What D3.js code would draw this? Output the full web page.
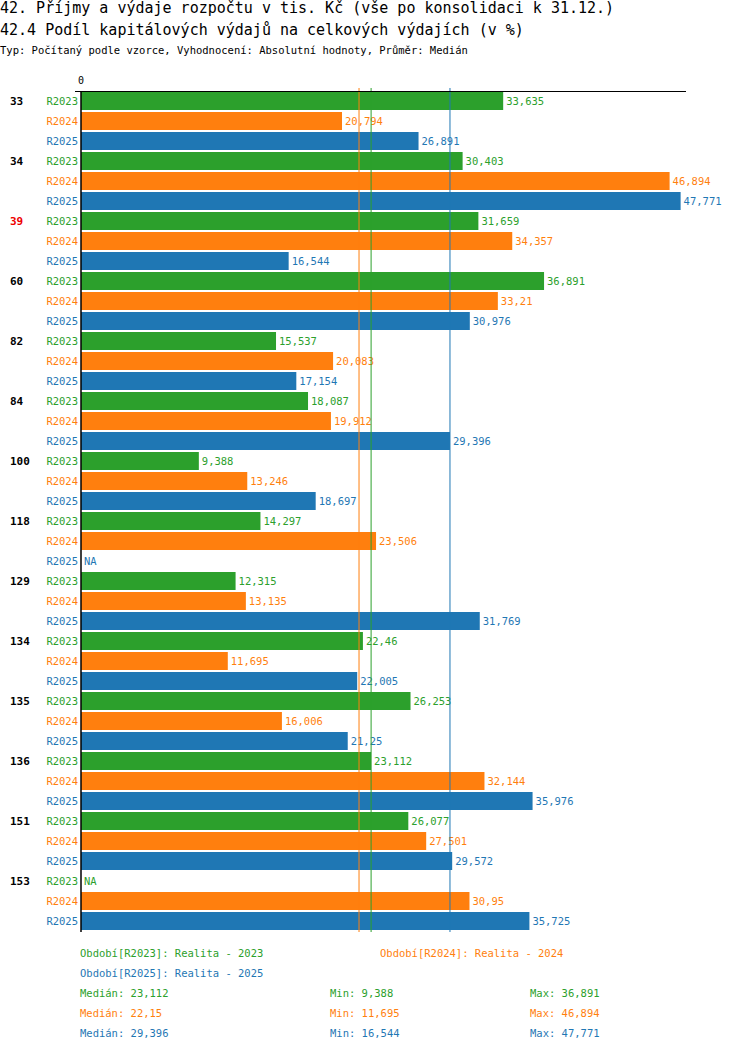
<!DOCTYPE html>
<html><head><meta charset="utf-8">
<script src="https://cdn.jsdelivr.net/npm/d3@7"></script>
<style>body{margin:0;background:#fff}text{font-family:"DejaVu Sans Mono",monospace}</style>
</head><body><svg id="c" width="750" height="1052"></svg>
<script>
const groups = ['33','34','39','60','82','84','100','118','129','134','135','136','151','153'];
const series = ['R2023','R2024','R2025'];
const colors = ['#2ca02c','#ff7f0e','#1f77b4'];
const r2023 = [33.635,30.403,31.659,36.891,15.537,18.087,9.388,14.297,12.315,22.46,26.253,23.112,26.077,null];
const r2024 = [20.794,46.894,34.357,33.21,20.083,19.912,13.246,23.506,13.135,11.695,16.006,32.144,27.501,30.95];
const r2025 = [26.891,47.771,16.544,30.976,17.154,29.396,18.697,null,31.769,22.005,21.25,35.976,29.572,35.725];
const medians = [23.112,22.15,29.396];
const mins = [9.388,11.695,16.544];
const maxs = [36.891,46.894,47.771];
const legendNames = ['Období[R2023]: Realita - 2023','Období[R2024]: Realita - 2024','Období[R2025]: Realita - 2025'];
const vals = [r2023,r2024,r2025];
const fmt = v => String(v).replace('.', ',');

const svg = d3.select('#c');
svg.append('text').attr('x',0).attr('y',13).attr('font-size',15).text('42. Příjmy a výdaje rozpočtu v tis. Kč (vše po konsolidaci k 31.12.)');
svg.append('text').attr('x',0).attr('y',35).attr('font-size',15).text('42.4 Podíl kapitálových výdajů na celkových výdajích (v %)');
svg.append('text').attr('x',0).attr('y',54).attr('font-size',10.5).text('Typ: Počítaný podle vzorce, Vyhodnocení: Absolutní hodnoty, Průměr: Medián');

const x = d3.scaleLinear().domain([0,48.2]).range([81,686]);
const y0 = d3.scaleBand().domain(groups).range([91,931]);
const y1 = d3.scaleBand().domain(series).range([0,60]).paddingInner(0.1).paddingOuter(0.05);

const g = svg.append('g');
groups.forEach((grp,i)=>{
  g.append('text').attr('x',10).attr('y',y0(grp)+y1('R2023')+y1.bandwidth()/2+4)
    .attr('font-size',11).attr('font-weight','bold').attr('fill',grp==='39'?'#e00':'#000').text(grp);
  series.forEach((s,j)=>{
    const v = vals[j][i], cy = y0(grp)+y1(s);
    g.append('text').attr('x',78).attr('y',cy+y1.bandwidth()/2+4).attr('text-anchor','end')
      .attr('font-size',10.5).attr('fill',colors[j]).text(s);
    if (v!=null) g.append('rect').attr('x',x(0)).attr('y',cy).attr('width',x(v)-x(0)).attr('height',y1.bandwidth()).attr('fill',colors[j]);
    g.append('text').attr('x',(v==null?x(0):x(v))+3).attr('y',cy+y1.bandwidth()/2+4)
      .attr('font-size',10.5).attr('fill',colors[j]).text(v==null?'NA':fmt(v));
  });
});
medians.forEach((m,j)=>svg.append('line').attr('x1',x(m)).attr('x2',x(m)).attr('y1',88).attr('y2',932).attr('stroke',colors[j]).attr('stroke-width',1));
svg.append('line').attr('x1',75).attr('x2',686).attr('y1',91.5).attr('y2',91.5).attr('stroke','#000');
svg.append('line').attr('x1',x(0)).attr('x2',x(0)).attr('y1',91).attr('y2',932).attr('stroke','#000').attr('stroke-width',1.5);
svg.append('text').attr('x',x(0)).attr('y',84).attr('text-anchor','middle').attr('font-size',10).text('0');

const lx = [80,380,80], ly = [957,957,977];
legendNames.forEach((t,j)=>svg.append('text').attr('x',lx[j]).attr('y',ly[j]).attr('font-size',10.5).attr('fill',colors[j]).text(t));
series.forEach((s,j)=>{
  const yy = 997+j*20;
  svg.append('text').attr('x',80).attr('y',yy).attr('font-size',10.5).attr('fill',colors[j]).text('Medián: '+fmt(medians[j]));
  svg.append('text').attr('x',330).attr('y',yy).attr('font-size',10.5).attr('fill',colors[j]).text('Min: '+fmt(mins[j]));
  svg.append('text').attr('x',530).attr('y',yy).attr('font-size',10.5).attr('fill',colors[j]).text('Max: '+fmt(maxs[j]));
});
</script></body></html>
